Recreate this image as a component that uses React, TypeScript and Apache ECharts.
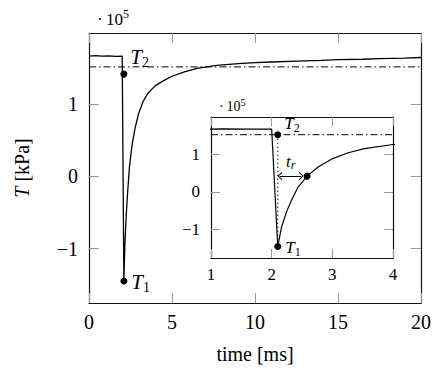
import React, { useEffect, useRef } from "react";
import * as echarts from "echarts";

// Measured signal (time in ms, value in 1e5 kPa)
const signalTime = [0, 0.4, 0.8, 1.2, 1.6, 2.0, 2.1, 2.163, 2.245, 2.327, 2.436, 2.584, 2.765, 2.985, 3.26, 3.53, 4.0, 4.5, 5.0, 5.75, 6.5, 7.7, 9.0, 10.0, 11.0, 12.5, 14.0, 15.0, 16.5, 17.5, 19.0, 20.0];
const signalValue = [1.67, 1.675, 1.668, 1.672, 1.666, 1.67, -1.45, -0.93, -0.53, -0.22, 0.13, 0.42, 0.66, 0.87, 1.04, 1.15, 1.26, 1.33, 1.39, 1.45, 1.5, 1.54, 1.565, 1.58, 1.588, 1.6, 1.61, 1.62, 1.626, 1.635, 1.642, 1.65];

const thresholdValue = 1.52;
const mainRange = [0, 20];
const insetRange = [1, 4];
const yRange = [-1.755, 1.99];
const yTicks = [-1, 0, 1];

// key points
const mainT2 = [2.1, 1.42];
const mainT1 = [2.1, -1.45];
const insetT2 = [2.1, 1.52];
const insetT1 = [2.1, -1.45];
const riseEnd = [2.584, 0.42];
// rise-time arrow (t_r)
const arrowStart = [2.135, 0.42];
const arrowEnd = [2.49, 0.42];

const FONT = "'Liberation Serif', 'DejaVu Serif', serif";

const fmtY = (v: number) => (v < 0 ? "\u2212" + Math.abs(v) : String(v));

const tLabel = (sub: string, big: number, small: number, lh: number) => ({
  show: true,
  formatter: `{t|T}{s|${sub}}`,
  rich: {
    t: { fontFamily: FONT, fontStyle: "italic", fontSize: big, lineHeight: lh, verticalAlign: "middle", color: "#000" },
    s: { fontFamily: FONT, fontSize: small, lineHeight: small, verticalAlign: "bottom", color: "#000" },
  },
});

const expName = (big: number, small: number, lh: number, padBottom: number) => ({
  name: "{a|\u00b7\u200910}{b|5}",
  nameLocation: "start",
  nameGap: -8,
  nameTextStyle: {
    align: "left", verticalAlign: "bottom", padding: [0, 0, padBottom, 0],
    fontFamily: FONT, fontSize: big, color: "#000",
    rich: {
      a: { fontFamily: FONT, fontSize: big, lineHeight: lh, verticalAlign: "middle", color: "#000" },
      b: { fontFamily: FONT, fontSize: small, lineHeight: small, verticalAlign: "top", color: "#000" },
    },
  },
});

export default function App() {
  const ref = useRef<HTMLDivElement>(null);
  useEffect(() => {
    if (!ref.current) return;
    const chart = echarts.init(ref.current, null, { renderer: "svg" });
    const signal = signalTime.map((t, i) => [t, signalValue[i]]);

    const axisLine = { show: true, onZero: false, lineStyle: { color: "#111", width: 1.2 } };
    const tick = (len: number) => ({ show: true, inside: true, length: len, lineStyle: { color: "#999", width: 1 } });

    const chevron = "path://M5,0 L10,8 L8.8,9 L5,2.6 L1.2,9 L0,8 Z";

    chart.setOption({
      animation: false,
      backgroundColor: "#fff",
      grid: [
        { left: 89, top: 33, width: 334, height: 271, show: false },
        { left: 211, top: 117, width: 182, height: 141, show: true, backgroundColor: "#fff", borderWidth: 0 },
      ],
      xAxis: [
        {
          gridIndex: 0, type: "value", min: mainRange[0], max: mainRange[1], interval: 5, position: "bottom",
          axisLine, axisTick: tick(10), splitLine: { show: false },
          axisLabel: { fontFamily: FONT, fontSize: 20, color: "#000", margin: 9 },
          name: "time [ms]", nameLocation: "middle", nameGap: 41,
          nameTextStyle: { fontFamily: FONT, fontSize: 20, color: "#000" },
        },
        {
          gridIndex: 0, type: "value", min: mainRange[0], max: mainRange[1], interval: 5, position: "top",
          axisLine, axisTick: tick(10), splitLine: { show: false }, axisLabel: { show: false },
          ...expName(17, 12, 22, 3),
        },
        {
          gridIndex: 1, type: "value", min: insetRange[0], max: insetRange[1], interval: 1, position: "bottom",
          axisLine, axisTick: tick(9), splitLine: { show: false },
          axisLabel: { fontFamily: FONT, fontSize: 17, color: "#000", margin: 8 },
        },
        {
          gridIndex: 1, type: "value", min: insetRange[0], max: insetRange[1], interval: 1, position: "top",
          axisLine, axisTick: tick(9), splitLine: { show: false }, axisLabel: { show: false },
          ...expName(14, 10, 18, 2),
        },
      ],
      yAxis: [
        {
          gridIndex: 0, type: "value", min: yRange[0], max: yRange[1], position: "left",
          axisLine, axisTick: { ...tick(10), customValues: yTicks }, splitLine: { show: false },
          axisLabel: { fontFamily: FONT, fontSize: 20, color: "#000", margin: 11, customValues: yTicks, formatter: fmtY },
          name: "{i|T} [kPa]", nameLocation: "middle", nameGap: 57, nameRotate: 90,
          nameTextStyle: {
            fontFamily: FONT, fontSize: 20, color: "#000",
            rich: { i: { fontFamily: FONT, fontSize: 20, fontStyle: "italic", color: "#000" } },
          },
        },
        {
          gridIndex: 0, type: "value", min: yRange[0], max: yRange[1], position: "right",
          axisLine, axisTick: { ...tick(10), customValues: yTicks }, splitLine: { show: false },
          axisLabel: { show: false },
        },
        {
          gridIndex: 1, type: "value", min: yRange[0], max: yRange[1], position: "left",
          axisLine, axisTick: { ...tick(9), customValues: yTicks }, splitLine: { show: false },
          axisLabel: { fontFamily: FONT, fontSize: 17, color: "#000", margin: 11, customValues: yTicks, formatter: fmtY },
        },
        {
          gridIndex: 1, type: "value", min: yRange[0], max: yRange[1], position: "right",
          axisLine, axisTick: { ...tick(9), customValues: yTicks }, splitLine: { show: false },
          axisLabel: { show: false },
        },
      ],
      series: [
        {
          type: "line", xAxisIndex: 0, yAxisIndex: 0, data: signal, showSymbol: false,
          lineStyle: { color: "#000", width: 1.3 }, silent: true,
        },
        {
          type: "line", xAxisIndex: 0, yAxisIndex: 0, data: [[mainRange[0], thresholdValue], [mainRange[1], thresholdValue]],
          showSymbol: false, lineStyle: { color: "#000", width: 1, type: [7, 3, 1.5, 3] }, silent: true,
        },
        {
          type: "scatter", xAxisIndex: 0, yAxisIndex: 0, symbolSize: 7, itemStyle: { color: "#000", opacity: 1 },
          data: [
            { value: mainT2, label: { ...tLabel("2", 21, 14, 24), position: "right", distance: 3, offset: [0, -17] } },
            { value: mainT1, label: { ...tLabel("1", 21, 14, 24), position: "right", distance: 4, offset: [0, 1] } },
          ],
        },
        {
          type: "line", xAxisIndex: 2, yAxisIndex: 2, data: signal, showSymbol: false,
          lineStyle: { color: "#000", width: 1.2 }, silent: true,
        },
        {
          type: "line", xAxisIndex: 2, yAxisIndex: 2, data: [[insetRange[0], thresholdValue], [insetRange[1], thresholdValue]],
          showSymbol: false, lineStyle: { color: "#000", width: 1, type: [7, 3, 1.5, 3] }, silent: true,
        },
        {
          type: "line", xAxisIndex: 2, yAxisIndex: 2, data: [insetT2, insetT1],
          showSymbol: false, lineStyle: { color: "#000", width: 1.3, type: [1, 3] }, silent: true,
          markLine: {
            silent: true, animation: false,
            symbol: [chevron, chevron], symbolSize: [8, 5],
            lineStyle: { color: "#000", width: 1, type: "solid" },
            label: {
              show: true, position: "middle", distance: 5,
              formatter: "{t|t}{s|r}",
              rich: {
                t: { fontFamily: FONT, fontStyle: "italic", fontSize: 17, lineHeight: 20, verticalAlign: "middle", color: "#000" },
                s: { fontFamily: FONT, fontStyle: "italic", fontSize: 12, lineHeight: 12, verticalAlign: "bottom", color: "#000" },
              },
            },
            data: [[{ coord: arrowStart }, { coord: arrowEnd }]],
          },
        },
        {
          type: "scatter", xAxisIndex: 2, yAxisIndex: 2, symbolSize: 7, itemStyle: { color: "#000", opacity: 1 },
          data: [
            { value: insetT2, label: { ...tLabel("2", 17, 12, 20), position: "right", distance: 3, offset: [0, -11] } },
            { value: insetT1, label: { ...tLabel("1", 17, 12, 20), position: "right", distance: 4, offset: [0, 1] } },
            { value: riseEnd },
          ],
        },
      ],
    });
    return () => chart.dispose();
  }, []);
  return <div ref={ref} style={{ position: "absolute", left: 0, top: 0, width: 434, height: 369 }} />;
}
